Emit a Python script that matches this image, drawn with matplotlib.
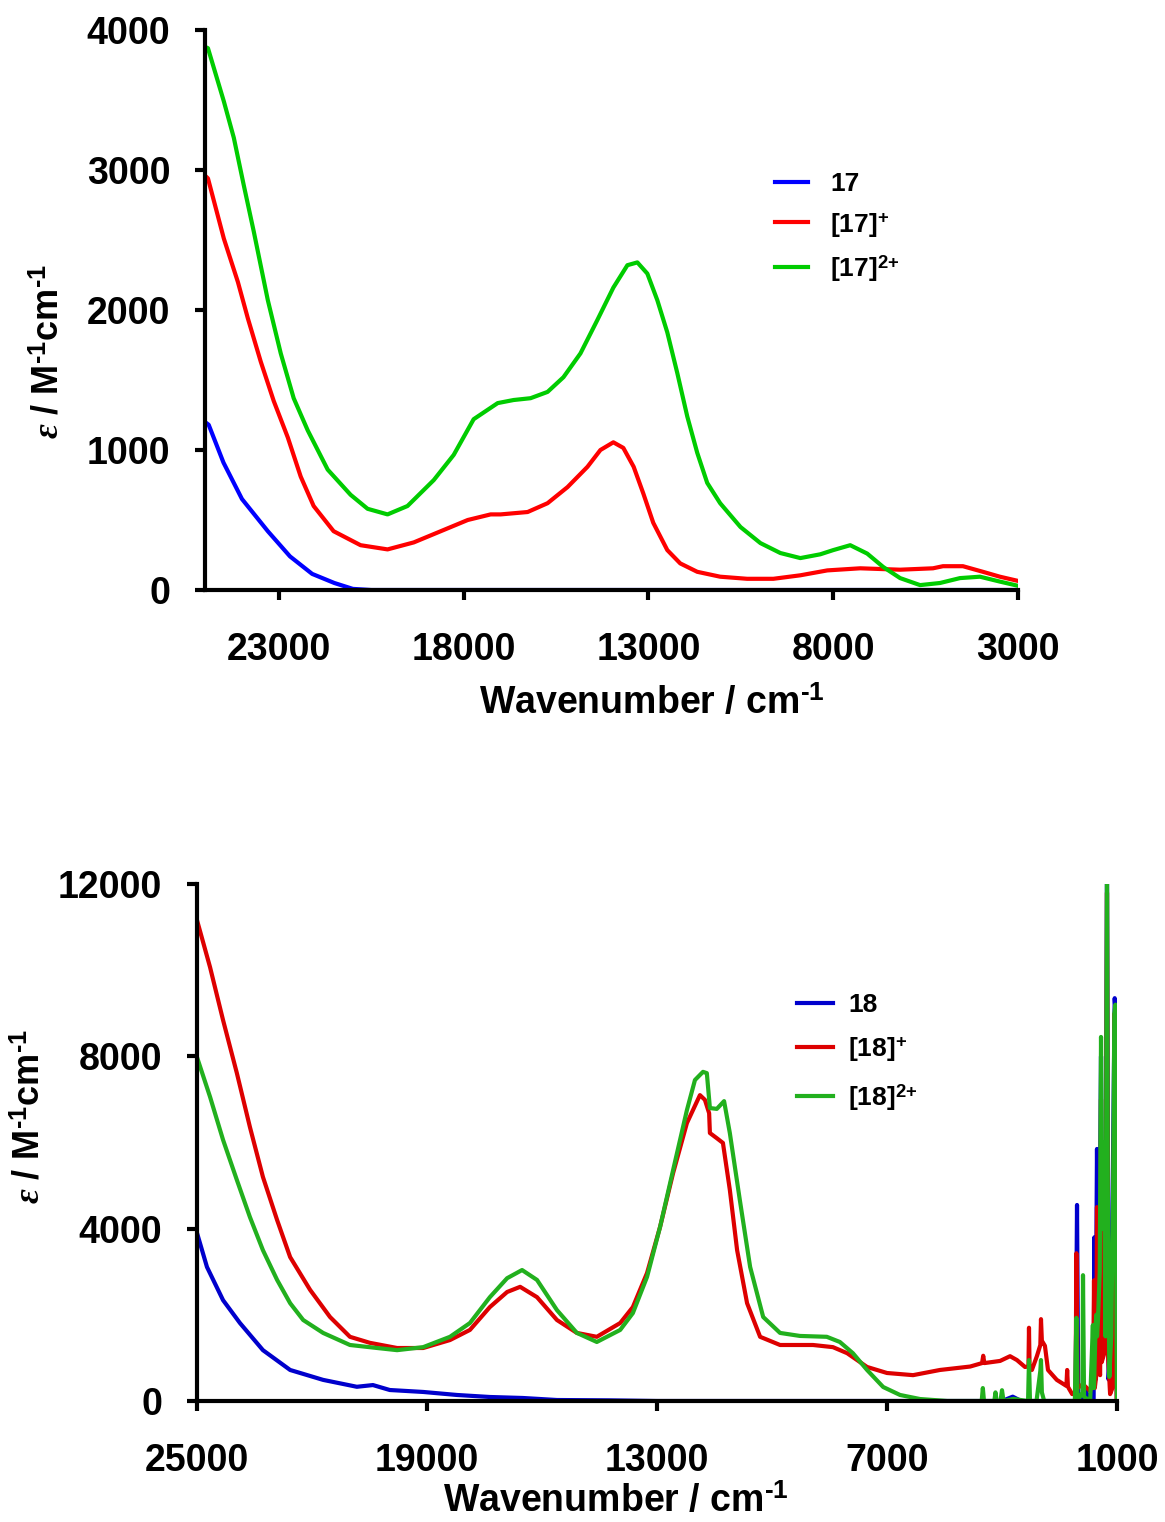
import numpy as np
import matplotlib
matplotlib.use("Agg")
import matplotlib.pyplot as plt

plt.rcParams['font.family'] = ['Liberation Sans', 'DejaVu Sans']
plt.rcParams['font.weight'] = 'bold'
plt.rcParams['mathtext.fontset'] = 'custom'
plt.rcParams['mathtext.rm'] = 'Liberation Sans:bold'
plt.rcParams['mathtext.bf'] = 'Liberation Sans:bold'
plt.rcParams['mathtext.it'] = 'Liberation Serif:italic'

# ---- top panel: 17 / [17]+ / [17]2+ (wavenumber cm-1, epsilon M-1 cm-1)
wn_17 = [25000, 24900, 24500, 24000, 23300, 22700, 22100, 21500, 21000, 20500, 3000]
eps_17 = [1200, 1180, 910, 650, 420, 240, 115, 50, 8, 0, 0]

wn_17p = [25000, 24920, 24490, 24110, 23840, 23490, 23140, 22760, 22410, 22060, 21520,
          20790, 20060, 19350, 18620, 17890, 17270, 17000, 16270, 15730, 15190, 14650,
          14300, 13950, 13680, 13400, 13140, 12870, 12490, 12140, 11680, 11060, 10330,
          9620, 8890, 8160, 7270, 6190, 5300, 5030, 4490, 3950, 3490, 3000]
eps_17p = [2960, 2940, 2510, 2200, 1940, 1630, 1350, 1090, 810, 600, 420,
           320, 290, 340, 420, 500, 540, 540, 557, 620, 735, 880,
           1000, 1055, 1015, 880, 690, 480, 285, 190, 130, 95, 80,
           80, 105, 140, 155, 145, 155, 170, 170, 130, 95, 65]

wn_17pp = [25000, 24920, 24490, 24220, 23950, 23680, 23300, 22950, 22600, 22220, 21680,
           21060, 20600, 20060, 19520, 18810, 18270, 17730, 17080, 16650, 16190, 15730,
           15300, 14840, 14380, 13950, 13570, 13300, 13030, 12760, 12490, 12220, 11950,
           11680, 11410, 11060, 10510, 9970, 9430, 8890, 8350, 8000, 7540, 7080, 6650,
           6190, 5650, 5110, 4570, 4030, 3490, 3000]
eps_17pp = [3880, 3870, 3490, 3230, 2890, 2560, 2070, 1690, 1370, 1140, 860,
            680, 580, 540, 600, 785, 965, 1220, 1335, 1357, 1370, 1415,
            1520, 1690, 1930, 2160, 2320, 2340, 2260, 2070, 1840, 1550, 1240,
            980, 765, 620, 450, 335, 264, 228, 255, 285, 320, 260, 165,
            85, 35, 50, 85, 95, 60, 30]

# ---- bottom panel: 18 / [18]+ / [18]2+
wn_18 = [25000, 24740, 24320, 23880, 23280, 22570, 21710, 20830, 20410, 19970, 19100,
         18220, 17360, 16500, 15610, 14230, 13000, 4000, 3720, 3500, 2080, 2043, 2010,
         1900, 1850, 1700, 1610, 1590, 1560, 1522, 1480, 1417, 1380, 1300, 1261, 1220,
         1150, 1100, 1060, 1035, 1010, 1000]
eps_18 = [3900, 3110, 2340, 1810, 1180, 720, 490, 330, 370, 255, 210,
          140, 93, 70, 23, 15, 0, 0, 100, 0, 0, 4550, 0,
          0, 300, 0, 0, 3800, 500, 5850, 800, 8000, 1000, 2000, 12500, 500,
          1500, 6000, 9350, 9000, 500, 0]

wn_18p = [25000, 24660, 24320, 23960, 23620, 23280, 22910, 22570, 22050, 21530, 21010,
          20490, 19780, 19100, 18400, 17880, 17360, 16910, 16570, 16130, 15610, 15090,
          14570, 13960, 13630, 13260, 12920, 12580, 12220, 11880, 11750, 11640, 11620,
          11440, 11280, 11100, 10910, 10650, 10310, 9790, 8930, 8410, 8040, 7520, 7000,
          6320, 5620, 4830, 4520, 4490, 4460, 4050, 3790, 3610, 3400, 3310, 3296, 3280,
          3220, 3090, 3000, 2983, 2960, 2880, 2800, 2570, 2320, 2300, 2280, 2170, 2080,
          2060, 2030, 1890, 1700, 1620, 1600, 1580, 1540, 1522, 1500, 1440, 1417, 1400,
          1300, 1261, 1230, 1180, 1120, 1060, 1030, 1010, 1000]
eps_18p = [11160, 10070, 8840, 7610, 6360, 5200, 4200, 3340, 2580, 1950, 1490,
           1350, 1230, 1230, 1415, 1650, 2180, 2530, 2650, 2410, 1880, 1580,
           1490, 1810, 2180, 2970, 4040, 5290, 6450, 7100, 6990, 6680, 6220,
           6100, 5990, 4900, 3500, 2270, 1490, 1300, 1300, 1250, 1110, 790, 650,
           600, 720, 800, 880, 1050, 880, 930, 1040, 950, 790, 800, 1700, 760,
           720, 1040, 1300, 1900, 1400, 1280, 720, 490, 350, 720, 330, 160, 200,
           3430, 300, 390, 230, 500, 2800, 300, 600, 4500, 800, 600, 7000, 900,
           1200, 11800, 1000, 160, 300, 9000, 7000, 0, 0]

wn_18pp = [25000, 24660, 24320, 23960, 23620, 23280, 22910, 22570, 22230, 21710, 21010,
           20300, 19780, 19100, 18400, 17880, 17360, 16910, 16520, 16130, 15610, 15090,
           14570, 13960, 13630, 13260, 12920, 12580, 12220, 12010, 11800, 11700, 11620,
           11440, 11250, 11100, 10840, 10570, 10230, 9790, 9270, 8570, 8230, 7890, 7520,
           7100, 6660, 6140, 5430, 4530, 4500, 4470, 4200, 4170, 4140, 4040, 4000, 3960,
           3700, 3350, 3320, 3296, 3270, 3100, 3000, 2983, 2960, 2900, 2100, 2060, 2030,
           1900, 1887, 1860, 1700, 1630, 1600, 1560, 1540, 1520, 1500, 1450, 1417, 1380,
           1340, 1300, 1261, 1240, 1200, 1150, 1100, 1070, 1040, 1020, 1005, 1000]
eps_18pp = [7980, 7060, 6060, 5130, 4270, 3500, 2810, 2270, 1880, 1580, 1300,
            1230, 1180, 1250, 1490, 1810, 2410, 2850, 3040, 2810, 2110, 1580,
            1370, 1650, 2040, 2880, 4040, 5360, 6750, 7450, 7640, 7610, 6800,
            6780, 6960, 6220, 4670, 3110, 1950, 1580, 1510, 1490, 1370, 1110, 720,
            325, 140, 46, 0, 0, 300, 0, 0, 200, 0, 0, 250, 0,
            50, 0, 0, 950, 0, 0, 700, 950, 200, 0, 0, 1930, 0,
            200, 2920, 100, 0, 1760, 300, 1700, 2000, 1500, 1800, 3000, 8450, 4000,
            6000, 1500, 12500, 5000, 560, 1500, 5000, 9000, 9200, 3000, 400, 0]

labels_17 = ['17', '[17]$^{{+}}$', '[17]$^{2{+}}$']
labels_18 = ['18', '[18]$^{{+}}$', '[18]$^{2{+}}$']

fig = plt.figure(figsize=(11.65, 15.22), dpi=100)


def style_axis(ax):
    for side in ['top', 'right']:
        ax.spines[side].set_visible(False)
    for side in ['left', 'bottom']:
        ax.spines[side].set_linewidth(3)
    ax.tick_params(axis='both', direction='out', length=7, width=3, labelsize=27)
    ax.tick_params(axis='x', pad=23)
    ax.tick_params(axis='y', pad=18)
    for lbl in ax.get_xticklabels() + ax.get_yticklabels():
        lbl.set_fontweight('bold')


# hyphen (U+2010) instead of the long math minus
ylab = '$\\varepsilon$ / M$^{\u20101}$cm$^{\u20101}$'
xlab = 'Wavenumber / cm$^{\u20101}$'

# top panel
ax1 = fig.add_axes([205 / 1165, 1 - 590 / 1522, 813 / 1165, 560 / 1522])
ax1.plot(wn_17, eps_17, color='#0000FF', lw=3, label=labels_17[0])
ax1.plot(wn_17p, eps_17p, color='#FF0000', lw=3, label=labels_17[1])
ax1.plot(wn_17pp, eps_17pp, color='#00CC00', lw=3, label=labels_17[2])
ax1.set_xlim(25000, 3000)
ax1.set_ylim(0, 4000)
ax1.set_xticks([23000, 18000, 13000, 8000, 3000])
ax1.set_yticks([0, 1000, 2000, 3000, 4000])
style_axis(ax1)
ax1.set_xlabel(xlab, fontsize=27, fontweight='bold')
ax1.set_ylabel(ylab, fontsize=26, fontweight='bold')
ax1.xaxis.set_label_coords(0.55, -0.171)
ax1.yaxis.set_label_coords(-0.17, 0.425)
ax1.legend(loc='upper left', bbox_to_anchor=(775 / 1165, 1 - 172 / 1522),
           bbox_transform=fig.transFigure, frameon=False, fontsize=19,
           handlelength=1.25, handletextpad=0.85, labelspacing=0.55,
           borderpad=0, borderaxespad=0)

# bottom panel
ax2 = fig.add_axes([197 / 1165, 1 - 1401 / 1522, 920 / 1165, 517 / 1522])
ax2.plot(wn_18, eps_18, color='#0000CC', lw=3, label=labels_18[0])
ax2.plot(wn_18p, eps_18p, color='#DD0000', lw=3, label=labels_18[1])
ax2.plot(wn_18pp, eps_18pp, color='#22B01E', lw=3, label=labels_18[2])
ax2.set_xlim(25000, 1000)
ax2.set_ylim(0, 12000)
ax2.set_xticks([25000, 19000, 13000, 7000, 1000])
ax2.set_yticks([0, 4000, 8000, 12000])
style_axis(ax2)
ax2.set_xlabel(xlab, fontsize=27, fontweight='bold')
ax2.set_ylabel(ylab, fontsize=26, fontweight='bold')
ax2.xaxis.set_label_coords(0.455, -0.16)
ax2.yaxis.set_label_coords(-0.163, 0.55)
ax2.legend(loc='upper left', bbox_to_anchor=(797 / 1165, 1 - 993 / 1522),
           bbox_transform=fig.transFigure, frameon=False, fontsize=19,
           handlelength=1.35, handletextpad=0.6, labelspacing=0.7,
           borderpad=0, borderaxespad=0)

fig.savefig('out.png', dpi=100)
